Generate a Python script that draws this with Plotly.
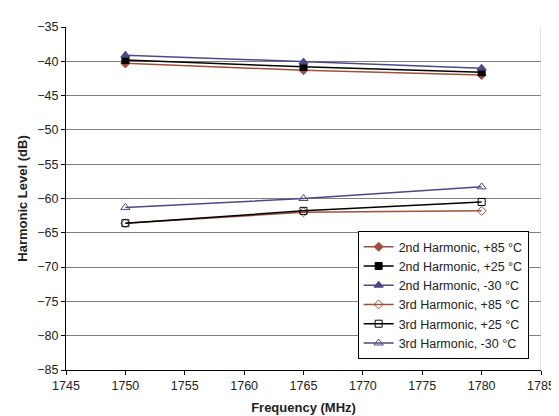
import plotly.graph_objects as go

freq = [1750, 1765, 1780]
h2_p85 = [-40.3, -41.3, -42.0]
h2_p25 = [-39.8, -40.8, -41.6]
h2_m30 = [-39.1, -40.1, -41.0]
h3_p85 = [-63.6, -62.0, -61.8]
h3_p25 = [-63.6, -61.8, -60.5]
h3_m30 = [-61.3, -60.0, -58.3]

names = ["2nd Harmonic, +85 °C", "2nd Harmonic, +25 °C", "2nd Harmonic, -30 °C",
         "3rd Harmonic, +85 °C", "3rd Harmonic, +25 °C", "3rd Harmonic, -30 °C"]
series = [h2_p85, h2_p25, h2_m30, h3_p85, h3_p25, h3_m30]

BROWN = "#A0503A"
BLACK = "#000000"
NAVY = "#4A4A86"
colors = [BROWN, BLACK, NAVY, BROWN, BLACK, NAVY]
symbols = ["diamond", "square", "triangle-up", "diamond-open", "square-open", "triangle-up-open"]
sizes = [7, 7, 8, 7, 7, 8]

fig = go.Figure()
for n, s, c, sym, sz in zip(names, series, colors, symbols, sizes):
    fig.add_trace(go.Scatter(
        x=freq, y=s, name=n, mode="lines+markers",
        line=dict(color=c, width=1.5),
        marker=dict(symbol=sym, size=sz, color=c, line=dict(color=c, width=1)),
    ))

fig.update_layout(
    width=559, height=416,
    margin=dict(l=58, r=16, t=12, b=54),
    paper_bgcolor="white", plot_bgcolor="white",
    font=dict(family="Liberation Sans, Arial, sans-serif", size=12.5, color="#222222"),
    showlegend=True,
    legend=dict(
        x=0.614, y=0.405, xanchor="left", yanchor="top",
        bgcolor="white", bordercolor="black", borderwidth=1,
        font=dict(size=12.5, color="#222222"),
        itemwidth=30, tracegroupgap=0,
    ),
)
fig.update_xaxes(
    range=[1745, 1785], dtick=5, tick0=1745,
    showgrid=False, zeroline=False,
    showline=True, linecolor="black", linewidth=1,
    ticks="outside", ticklen=4, tickcolor="black",
    mirror=False,
    title=dict(text="<b>Frequency (MHz)</b>", font=dict(size=13, color="#222222"), standoff=10),
)
fig.update_yaxes(
    range=[-85, -35], dtick=5, tick0=-85,
    showgrid=True, gridcolor="#808080", gridwidth=1,
    zeroline=False,
    showline=True, linecolor="black", linewidth=1,
    ticks="outside", ticklen=4, tickcolor="black",
    title=dict(text="<b>Harmonic Level (dB)</b>", font=dict(size=13, color="#222222"), standoff=6),
)
# light right border of plot area
fig.add_shape(type="line", xref="x", yref="paper", x0=1785, x1=1785, y0=0, y1=1,
              line=dict(color="#c8c8c8", width=1))

fig.write_html("out.html")
